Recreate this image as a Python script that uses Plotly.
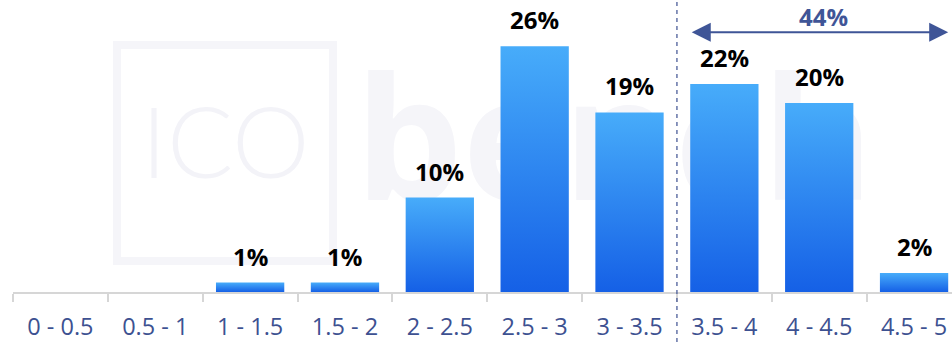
import plotly.graph_objects as go

categories = ["0 - 0.5", "0.5 - 1", "1 - 1.5", "1.5 - 2", "2 - 2.5",
              "2.5 - 3", "3 - 3.5", "3.5 - 4", "4 - 4.5", "4.5 - 5"]
values = [0, 0, 1, 1, 10, 26, 19, 22, 20, 2]
value_labels = ["", "", "1%", "1%", "10%", "26%", "19%", "22%", "20%", "2%"]
bracket_label = "44%"

BAR_W = 0.72
AXIS_BLUE = "#3d5191"
ARROW_BLUE = "#3f5597"
WM = "#f5f5f9"

fig = go.Figure()

# watermark (behind bars)
fig.add_trace(go.Scatter(x=[1.74], y=[14.7], mode="text", text=["ICO"],
                         textfont=dict(family="Lato", size=98, color="#f3f3f8", weight=300),
                         hoverinfo="skip", showlegend=False))
fig.add_trace(go.Scatter(x=[5.84], y=[14.2], mode="text", text=["bench"],
                         textfont=dict(family="Open Sans", size=170, color=WM, weight="bold"),
                         hoverinfo="skip", showlegend=False))

# bars with vertical gradient
for i, v in enumerate(values):
    if v <= 0:
        continue
    x0, x1 = i - BAR_W / 2, i + BAR_W / 2
    fig.add_trace(go.Scatter(
        x=[x0, x1, x1, x0, x0], y=[0, 0, v, v, 0],
        mode="lines", fill="toself", line=dict(width=0),
        fillgradient=dict(type="vertical",
                          colorscale=[[0, "#1560e6"], [1, "#47acfa"]]),
        hoverinfo="skip", showlegend=False))

annotations = []
for i, (v, lab) in enumerate(zip(values, value_labels)):
    if not lab:
        continue
    annotations.append(dict(x=i, y=v, text="<b>%s</b>" % lab, showarrow=False,
                            yanchor="bottom", yshift=8,
                            font=dict(family="Open Sans", size=24, color="#000000")))

# double arrow over the 3.5-5 range
annotations.append(dict(x=9.36, y=27.5, ax=6.64, ay=27.5, axref="x", ayref="y",
                        xref="x", yref="y", text="", showarrow=True,
                        arrowhead=2, startarrowhead=2, arrowside="end+start",
                        arrowsize=1.9, startarrowsize=1.9, arrowwidth=2,
                        arrowcolor=ARROW_BLUE, standoff=0, startstandoff=0))
annotations.append(dict(x=8.05, y=29.2, text="<b>%s</b>" % bracket_label, showarrow=False,
                        font=dict(family="Open Sans", size=24, color=ARROW_BLUE)))

shapes = [
    dict(type="rect", xref="paper", yref="paper",
         x0=(117 - 13) / 939, x1=(333 - 13) / 939,
         y0=(292 - 261) / 292, y1=(292 - 45) / 292,
         line=dict(color=WM, width=8), layer="below"),
    dict(type="line", xref="x", yref="paper", x0=6.5, x1=6.5, y0=-50 / 292, y1=1,
         line=dict(color=AXIS_BLUE, width=1.2, dash="4px,4px")),
]

fig.update_layout(
    width=952, height=342,
    margin=dict(l=13, r=0, t=0, b=50),
    paper_bgcolor="white", plot_bgcolor="white",
    showlegend=False,
    annotations=annotations,
    shapes=shapes,
    xaxis=dict(range=[-0.5, 9.40], tickmode="array",
               tickvals=list(range(len(categories))), ticktext=categories,
               ticks="", showgrid=False, zeroline=False,
               showline=True, linecolor="#d6d6d6", linewidth=1.5,
               tickfont=dict(family="Open Sans", size=23.5, color=AXIS_BLUE),
               ticklabelstandoff=13,
               minor=dict(tickmode="linear", tick0=-0.5, dtick=1, ticks="outside",
                          ticklen=8, tickcolor="#d6d6d6", tickwidth=1.5, showgrid=False),
               fixedrange=True),
    yaxis=dict(range=[0, 30.9], visible=False, fixedrange=True),
)

fig.write_html("out.html", config={"displayModeBar": False},
               post_script="document.body.style.margin='0';document.body.style.overflow='hidden';")
